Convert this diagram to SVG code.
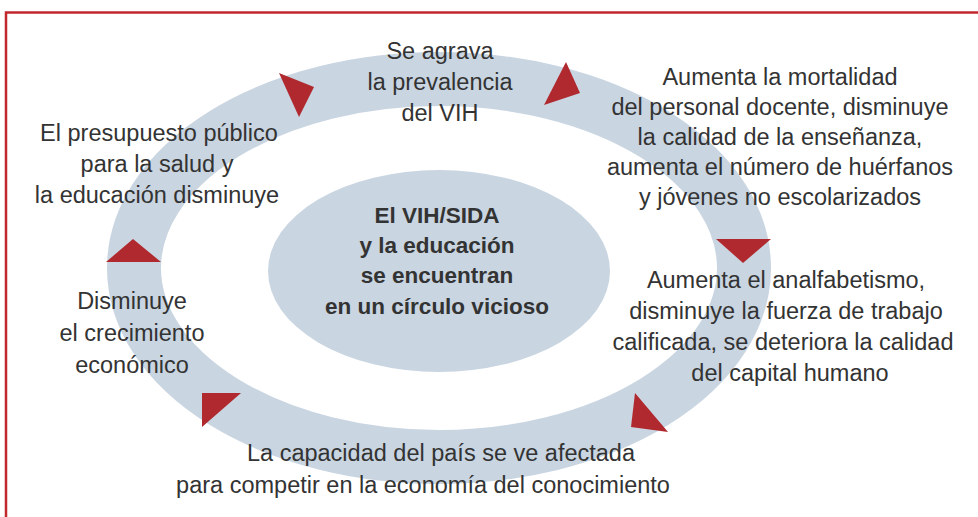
<svg xmlns="http://www.w3.org/2000/svg" width="978" height="517" viewBox="0 0 978 517">
<style>
.t{font-family:"Liberation Sans",Arial,sans-serif;font-size:23.5px;fill:#333;text-anchor:middle}
.b{font-family:"Liberation Sans",Arial,sans-serif;font-size:22.5px;font-weight:bold;fill:#333;text-anchor:middle}
.ar{fill:#b0292e}
</style>
<rect width="978" height="517" fill="#fff"/>
<rect x="6" y="12.5" width="1000" height="540" fill="none" stroke="#c0282e" stroke-width="2.5"/>
<g id="ring"><ellipse cx="439" cy="268" rx="305" ry="189" fill="none" stroke="#c9d5e1" stroke-width="54"/></g>
<g id="center"><ellipse cx="439" cy="271" rx="171" ry="101" fill="#c9d5e1"/>
<text class="b" x="437" y="223">El VIH/SIDA</text>
<text class="b" x="437" y="253">y la educación</text>
<text class="b" x="437" y="283">se encuentran</text>
<text class="b" x="437" y="314">en un círculo vicioso</text></g>
<g id="connectors">
<polygon class="ar" points="279,73 314,87 299,117"/>
<polygon class="ar" points="566,62 580,93 544,105"/>
<polygon class="ar" points="716,239 771,239 743,263"/>
<polygon class="ar" points="635,393 668,432 631,427"/>
<polygon class="ar" points="202,393 241,393 202,427"/>
<polygon class="ar" points="106,262 161,262 133,239"/>
</g>
<g id="n-top"><text class="t" x="440" y="59">Se agrava</text><text class="t" x="440" y="90">la prevalencia</text><text class="t" x="440" y="121">del VIH</text></g>
<g id="n-topright"><text class="t" x="780" y="85">Aumenta la mortalidad</text><text class="t" x="780" y="115">del personal docente, disminuye</text><text class="t" x="780" y="145">la calidad de la enseñanza,</text><text class="t" x="780" y="175">aumenta el número de huérfanos</text><text class="t" x="780" y="205">y jóvenes no escolarizados</text></g>
<g id="n-right"><text class="t" x="786" y="288">Aumenta el analfabetismo,</text><text class="t" x="786" y="319">disminuye la fuerza de trabajo</text><text class="t" x="783" y="350">calificada, se deteriora la calidad</text><text class="t" x="790" y="381">del capital humano</text></g>
<g id="n-bottom"><text class="t" x="441" y="461">La capacidad del país se ve afectada</text><text class="t" x="423" y="493">para competir en la economía del conocimiento</text></g>
<g id="n-left"><text class="t" x="132" y="309">Disminuye</text><text class="t" x="132" y="341">el crecimiento</text><text class="t" x="132" y="373">económico</text></g>
<g id="n-topleft"><text class="t" x="159" y="141">El presupuesto público</text><text class="t" x="157" y="172">para la salud y</text><text class="t" x="157" y="203">la educación disminuye</text></g>
</svg>
